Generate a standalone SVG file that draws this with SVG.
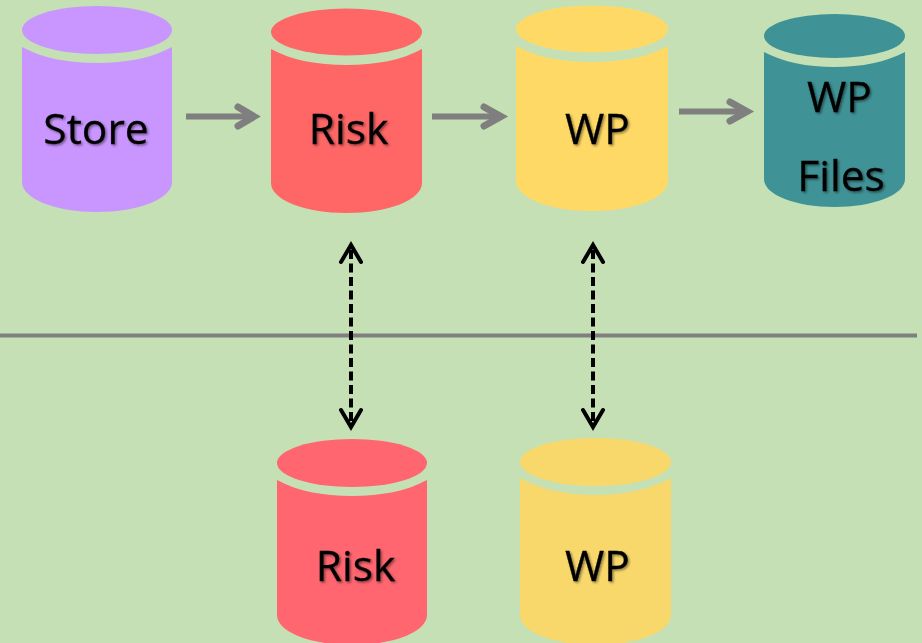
<svg xmlns="http://www.w3.org/2000/svg" width="922" height="643" viewBox="0 0 922 643">
<style>
.lbl{font-family:"Open Sans","Noto Sans",sans-serif;font-size:42.500px;fill:#000;stroke:#000;stroke-width:0.3;filter:url(#sh)}
.purple{fill:#C996FF}.red{fill:#FF6666}.yellow{fill:#FFD966}.teal{fill:#3F9296}.red2{fill:#FF6670}.yellow2{fill:#F9D86B}
.flow{fill:none;stroke:#7F7F7F;stroke-width:6}
.flow-head{fill:none;stroke:#7F7F7F;stroke-width:7;stroke-linecap:round;stroke-linejoin:miter}
.sync{fill:none;stroke:#000;stroke-width:4;stroke-dasharray:9 4.500}
.sync-head{fill:none;stroke:#000;stroke-width:4;stroke-linecap:round}
</style>
<defs>
<filter id="sh" x="-10%" y="-10%" width="125%" height="125%"><feDropShadow dx="1.5" dy="1.5" stdDeviation="1" flood-color="#000" flood-opacity="0.45"/></filter>
</defs>
<rect width="922" height="643" fill="#C5E0B4"/>
<g id="connectors">
<path class="flow" d="M186 116.500H253"/><path class="flow-head" d="M238 107L254 116.500L238 126"/>
<path class="flow" d="M432 116.500H500"/><path class="flow-head" d="M484 107L501 116.500L484 126"/>
<path class="flow" d="M679 111.500H746"/><path class="flow-head" d="M730 102L747 111.500L730 121"/>
<path d="M0 335.500H917" fill="none" stroke="#7F7F7F" stroke-width="4"/>
<path class="sync" d="M351 250V424"/><path class="sync-head" d="M341 262L351 245L361 262M341 410L351 427L361 410"/>
<path class="sync" d="M593 250V424"/><path class="sync-head" d="M583 262L593 245L603 262M583 410L593 427L603 410"/>
</g>
<g id="store" class="purple">
<ellipse cx="97" cy="30" rx="75" ry="24"/>
<path d="M22 47C42 58 68 63 97 63S152 58 172 47V182C172 199 138 212 97 212S22 199 22 182Z"/>
<text class="lbl" x="96" y="144" text-anchor="middle">Store</text>
</g>
<g id="risk" class="red">
<ellipse cx="346.500" cy="32" rx="75.500" ry="23.500"/>
<path d="M271 49C291 60 317 65 346.500 65S402 60 422 49V183C422 200 388 213 346.500 213S271 200 271 183Z"/>
<text class="lbl" x="348.500" y="144" text-anchor="middle">Risk</text>
</g>
<g id="wp" class="yellow">
<ellipse cx="592" cy="29" rx="76" ry="23.500"/>
<path d="M516 46C536 57 562 62 592 62S648 57 668 46V181C668 198 634 211 592 211S516 198 516 181Z"/>
<text class="lbl" x="597.500" y="144" text-anchor="middle">WP</text>
</g>
<g id="wp-files" class="teal">
<ellipse cx="834.500" cy="36" rx="70.500" ry="22"/>
<path d="M764 52C783 62 807 67 834.500 67S886 62 905 52V179C905 195 873 207 834.500 207S764 195 764 179Z"/>
<text class="lbl" x="839.500" y="112" text-anchor="middle">WP</text>
<text class="lbl" x="841" y="191" text-anchor="middle">Files</text>
</g>
<g id="risk-lower" class="red2">
<ellipse cx="352" cy="463" rx="75" ry="24"/>
<path d="M277 480C297 491 323 496 352 496S407 491 427 480V615C427 632 393 645 352 645S277 632 277 615Z"/>
<text class="lbl" x="355.500" y="581" text-anchor="middle">Risk</text>
</g>
<g id="wp-lower" class="yellow2">
<ellipse cx="595.500" cy="462" rx="75.500" ry="24"/>
<path d="M520 478C540 489 566 495 595.500 495S651 489 671 478V615C671 632 637 645 595.500 645S520 632 520 615Z"/>
<text class="lbl" x="597.500" y="581" text-anchor="middle">WP</text>
</g>
</svg>
